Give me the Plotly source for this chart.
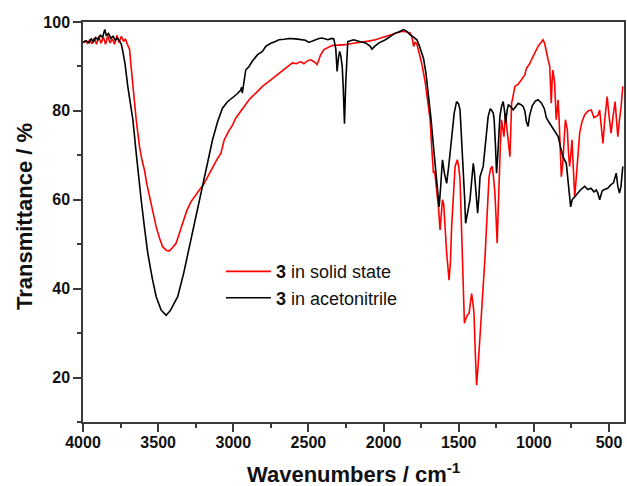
import plotly.graph_objects as go

# ---- data: 3 in acetonitrile (black) ----
wn_acn = [4000, 3980, 3960, 3945, 3930, 3915, 3900, 3885, 3870, 3855, 3845, 3830, 3815, 3800, 3785, 3770, 3755, 3745, 3735, 3720,
          3702, 3685, 3668, 3646, 3630, 3613, 3590, 3569, 3540, 3513, 3480, 3447, 3420, 3395, 3370, 3330, 3292, 3250, 3204, 3170,
          3138, 3105, 3072, 3040, 3005, 2975, 2950, 2945, 2940, 2930, 2917, 2895, 2875, 2840, 2806, 2784, 2750, 2720, 2696, 2660,
          2630, 2585, 2550, 2520, 2497, 2460, 2430, 2408, 2370, 2345, 2331, 2318, 2309, 2300, 2292, 2285, 2275, 2268, 2260, 2252,
          2245, 2238, 2220, 2199, 2160, 2120, 2090, 2077, 2060, 2030, 1988, 1950, 1922, 1895, 1867, 1850, 1835, 1822, 1800, 1778,
          1760, 1745, 1734, 1718, 1701, 1685, 1668, 1655, 1646, 1638, 1630, 1620, 1608, 1595, 1580, 1565, 1547, 1530, 1514, 1500,
          1491, 1480, 1469, 1460, 1454, 1440, 1425, 1413, 1403, 1395, 1387, 1374, 1365, 1358, 1337, 1320, 1304, 1290, 1282, 1270,
          1264, 1255, 1248, 1240, 1226, 1215, 1204, 1195, 1188, 1178, 1170, 1150, 1137, 1120, 1104, 1085, 1071, 1060, 1049, 1038,
          1028, 1010, 990, 972, 950, 930, 917, 900, 880, 851, 838, 820, 806, 784, 773, 762, 755, 745, 728, 710,
          690, 662, 640, 620, 600, 585, 574, 562, 545, 530, 508, 490, 470, 452, 441, 430, 420, 408]
t_acn = [95.4, 95.8, 95.3, 96.2, 95.6, 96.5, 96.0, 97.0, 96.6, 98.3, 97.0, 97.4, 96.3, 96.8, 95.9, 96.4, 95.6, 95.0, 93.4, 90.5,
         85.5, 81.5, 78.0, 70.5, 65.0, 60.0, 53.5, 48.0, 42.5, 38.2, 35.2, 34.0, 35.0, 36.5, 38.2, 43.5, 49.4, 56.0, 63.0, 68.5,
         73.5, 77.5, 80.6, 82.0, 82.9, 83.8, 84.7, 85.3, 84.0, 86.5, 89.2, 90.0, 91.1, 92.6, 93.4, 94.5, 95.2, 95.6, 96.0, 96.1,
         96.3, 96.2, 96.0, 95.9, 95.4, 96.0, 96.3, 96.4, 96.0, 96.3, 96.2, 94.0, 88.9, 92.0, 93.4, 92.5, 90.0, 85.0, 77.1, 86.0,
         93.0, 95.6, 95.8, 96.0, 95.6, 95.3, 94.6, 93.9, 94.5, 95.3, 96.0, 96.8, 97.5, 97.8, 98.3, 98.0, 97.5, 97.1, 96.6, 96.0,
         94.5, 92.8, 91.8, 88.5, 84.0, 78.5, 72.0, 67.5, 64.5, 61.0, 58.4, 63.0, 69.0, 66.0, 63.7, 68.0, 74.2, 79.5, 82.1, 81.5,
         80.2, 74.0, 66.7, 60.0, 54.7, 57.0, 60.0, 64.5, 68.2, 66.0, 63.0, 57.0, 61.0, 65.2, 67.5, 73.0, 78.7, 80.5, 80.2, 79.5,
         78.0, 72.0, 66.0, 70.0, 78.7, 81.0, 82.1, 80.0, 77.2, 80.0, 81.4, 80.8, 80.2, 81.0, 81.7, 81.4, 81.0, 80.0, 77.5, 76.5,
         79.0, 81.2, 82.2, 82.5, 81.8, 80.5, 78.5, 77.5, 76.5, 75.0, 74.2, 71.5, 69.7, 68.2, 64.5, 60.5, 58.4, 60.0, 60.7, 61.5,
         62.2, 63.0, 62.3, 62.6, 61.8, 62.2, 61.5, 60.0, 62.0, 62.3, 62.6, 63.3, 63.8, 66.0, 63.0, 61.5, 63.0, 67.5]

# ---- data: 3 in solid state (red) ----
wn_sol = [4000, 3985, 3970, 3955, 3940, 3925, 3910, 3895, 3880, 3865, 3850, 3835, 3820, 3805, 3790, 3775, 3760, 3745, 3730, 3718,
          3705, 3690, 3680, 3668, 3657, 3646, 3635, 3624, 3608, 3591, 3575, 3558, 3535, 3513, 3490, 3470, 3445, 3425, 3405, 3381,
          3360, 3337, 3310, 3281, 3250, 3226, 3200, 3182, 3160, 3138, 3110, 3082, 3060, 3030, 3005, 2983, 2950, 2920, 2895, 2850,
          2806, 2750, 2696, 2650, 2607, 2580, 2552, 2530, 2510, 2485, 2460, 2442, 2420, 2397, 2370, 2342, 2300, 2253, 2200, 2143,
          2100, 2055, 2010, 1966, 1920, 1878, 1850, 1822, 1810, 1800, 1790, 1778, 1767, 1745, 1723, 1705, 1690, 1680, 1668, 1660,
          1653, 1645, 1635, 1624, 1616, 1608, 1600, 1595, 1580, 1564, 1555, 1547, 1535, 1524, 1509, 1500, 1491, 1484, 1476, 1468,
          1462, 1455, 1447, 1440, 1431, 1422, 1414, 1406, 1398, 1390, 1381, 1370, 1358, 1348, 1337, 1325, 1315, 1305, 1298, 1287,
          1277, 1268, 1259, 1250, 1244, 1237, 1230, 1222, 1215, 1207, 1199, 1193, 1188, 1182, 1175, 1165, 1159, 1153, 1148, 1140,
          1126, 1104, 1082, 1060, 1049, 1030, 1016, 995, 972, 955, 939, 928, 917, 905, 894, 884, 878, 873, 862, 856,
          851, 845, 839, 833, 828, 817, 808, 801, 790, 784, 777, 770, 762, 754, 746, 737, 728, 720, 711, 703,
          695, 680, 662, 640, 618, 600, 585, 573, 562, 552, 540, 528, 512, 500, 486, 472, 459, 450, 441, 430,
          419, 408]
t_sol = [95.4, 95.7, 95.2, 96.0, 95.1, 96.4, 95.0, 96.8, 95.2, 96.6, 95.0, 96.9, 95.3, 96.2, 95.0, 97.0, 95.4, 96.8, 95.6, 96.2,
         95.0, 93.8, 90.0, 85.5, 81.5, 78.0, 75.0, 72.0, 69.0, 66.7, 63.5, 60.7, 57.0, 53.9, 51.3, 49.4, 48.6, 48.5, 49.2, 50.2,
         52.3, 54.7, 57.5, 59.6, 61.2, 62.2, 63.3, 64.5, 66.0, 67.5, 69.0, 70.5, 73.5, 75.5, 76.8, 78.4, 80.0, 81.5, 82.5, 84.0,
         85.5, 87.0, 88.5, 89.8, 90.8, 90.6, 91.1, 90.6, 91.2, 91.5, 91.0, 90.4, 92.5, 93.8, 94.3, 94.7, 94.8, 94.9, 95.2, 95.4,
         95.7, 96.0, 96.5, 97.1, 97.5, 97.9, 97.8, 97.5, 96.5, 94.5, 95.5, 95.0, 93.6, 90.5, 86.5, 82.0, 78.0, 72.0, 66.0, 66.5,
         64.5, 61.5, 58.4, 53.2, 57.0, 60.0, 59.0, 56.2, 48.0, 41.9, 46.0, 53.9, 61.0, 67.5, 69.0, 67.5, 64.5, 56.0, 47.9, 38.0,
         32.2, 33.0, 33.7, 34.2, 34.4, 36.5, 38.9, 37.0, 34.4, 26.0, 18.3, 23.0, 29.1, 34.5, 40.4, 47.0, 53.9, 60.0, 65.2, 67.0,
         67.5, 65.0, 61.5, 55.0, 50.2, 58.0, 67.5, 73.0, 78.0, 76.0, 74.2, 77.0, 79.5, 77.0, 74.2, 71.0, 69.7, 76.0, 81.7, 83.0,
         85.5, 86.0, 87.0, 88.1, 89.6, 90.5, 91.5, 93.0, 94.5, 95.3, 96.0, 95.2, 93.0, 91.5, 90.0, 81.7, 87.0, 89.2, 86.3, 81.0,
         78.0, 80.0, 82.5, 79.0, 75.7, 65.2, 68.0, 72.0, 78.0, 77.0, 75.7, 71.0, 67.5, 70.0, 73.5, 67.0, 60.7, 64.0, 68.2, 72.0,
         75.0, 77.5, 79.1, 80.0, 80.2, 78.5, 78.7, 79.0, 80.2, 77.0, 72.7, 78.0, 83.2, 79.0, 75.0, 79.0, 82.1, 78.0, 74.2, 78.0,
         81.0, 85.5]

x_ticks = [4000, 3500, 3000, 2500, 2000, 1500, 1000, 500]
y_ticks = [20, 40, 60, 80, 100]
series_names = ["<b>3</b> in solid state", "<b>3</b> in acetonitrile"]

FONT = "Liberation Sans, Arial, sans-serif"

fig = go.Figure()
fig.add_trace(go.Scatter(x=wn_sol, y=t_sol, mode="lines", name=series_names[0],
                         line=dict(color="#ff0000", width=1.6)))
fig.add_trace(go.Scatter(x=wn_acn, y=t_acn, mode="lines", name=series_names[1],
                         line=dict(color="#000000", width=1.6)))

axis_common = dict(showline=True, linecolor="#3a3a3a", linewidth=1.5, mirror=True,
                   ticks="outside", ticklen=8, tickwidth=1.5, tickcolor="#3a3a3a",
                   showgrid=False, zeroline=False,
                   tickfont=dict(family=FONT, size=16, color="#111", weight="bold"))

fig.update_layout(
    width=627, height=486,
    margin=dict(l=83, r=1, t=22, b=64),
    paper_bgcolor="white", plot_bgcolor="white",
    showlegend=True,
    legend=dict(x=0.255, y=0.422, xanchor="left", yanchor="top",
                bgcolor="rgba(0,0,0,0)", borderwidth=0,
                font=dict(family=FONT, size=18, color="#111"),
                itemwidth=45, tracegroupgap=0),
    xaxis=dict(range=[4000, 400], tickvals=x_ticks, ticklabelstandoff=-3,
               minor=dict(dtick=250, ticks="outside", ticklen=4, tickwidth=1.5, tickcolor="#3a3a3a"),
               **axis_common),
    yaxis=dict(range=[10, 100], tickvals=y_ticks,
               minor=dict(dtick=10, ticks="outside", ticklen=4, tickwidth=1.5, tickcolor="#3a3a3a"),
               **axis_common),
    annotations=[
        dict(text="Wavenumbers / cm<sup>-1</sup>", xref="paper", yref="paper", x=0.5, y=-0.128,
             xanchor="center", yanchor="middle", showarrow=False,
             font=dict(family=FONT, size=22, color="#111", weight="bold")),
        dict(text="Transmittance / %", xref="paper", yref="paper", x=-0.109, y=0.5125,
             xanchor="center", yanchor="middle", showarrow=False, textangle=-90,
             font=dict(family=FONT, size=22, color="#111", weight="bold")),
    ],
)

fig.write_html("out.html")
